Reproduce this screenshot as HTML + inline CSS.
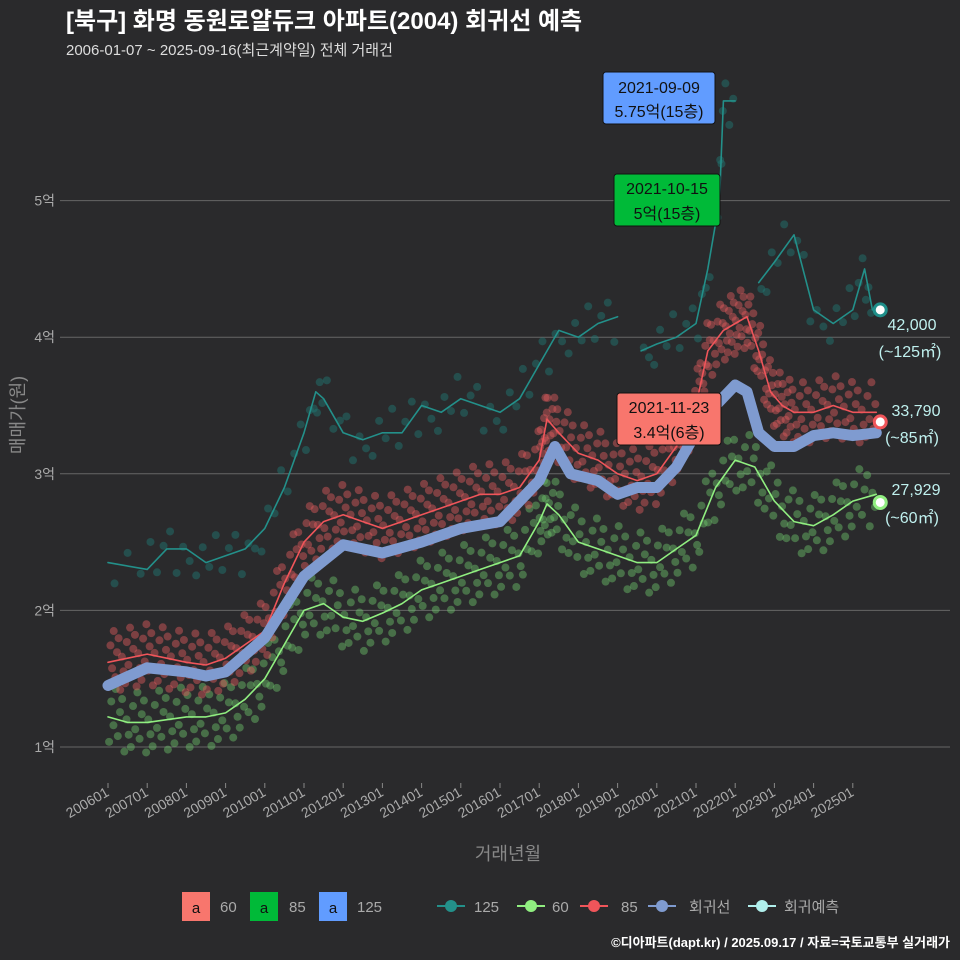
<!DOCTYPE html>
<html><head><meta charset="utf-8">
<style>
body{margin:0;background:#2a2a2c;}
svg{display:block;font-family:"Liberation Sans","Noto Sans CJK KR",sans-serif;}
</style></head>
<body>
<svg id="chart" width="960" height="960" viewBox="0 0 960 960">
<rect width="960" height="960" fill="#2a2a2c"/>
<text x="66" y="29" font-size="24" font-weight="bold" fill="#ffffff">[북구] 화명 동원로얄듀크 아파트(2004) 회귀선 예측</text>
<text x="66" y="55" font-size="15" fill="#dddddd">2006-01-07 ~ 2025-09-16(최근계약일) 전체 거래건</text>
<g id="grid"></g>
<g id="dots"></g>
<g id="lines"></g>
<g id="axes"></g>
<text transform="translate(24,415) rotate(-90)" text-anchor="middle" font-size="18" fill="#888">매매가(원)</text>
<text x="508" y="860" text-anchor="middle" font-size="18" fill="#888">거래년월</text>

<g>
<rect x="603" y="72" width="112" height="52" rx="3" fill="#619cff" stroke="#111"/>
<text x="659" y="93" text-anchor="middle" font-size="16" fill="#111">2021-09-09</text>
<text x="659" y="117" text-anchor="middle" font-size="16" fill="#111">5.75억(15층)</text>
</g>
<g>
<rect x="614" y="174" width="106" height="52" rx="3" fill="#00ba38" stroke="#111"/>
<text x="667" y="194" text-anchor="middle" font-size="16" fill="#111">2021-10-15</text>
<text x="667" y="219" text-anchor="middle" font-size="16" fill="#111">5억(15층)</text>
</g>
<g>
<rect x="617" y="393" width="104" height="52" rx="3" fill="#f8766d" stroke="#111"/>
<text x="669" y="413" text-anchor="middle" font-size="16" fill="#111">2021-11-23</text>
<text x="669" y="438" text-anchor="middle" font-size="16" fill="#111">3.4억(6층)</text>
</g>

<g fill="#bff0ee" font-size="16" text-anchor="middle">
<text x="912" y="330">42,000</text>
<text x="910" y="357">(~125㎡)</text>
<text x="916" y="416">33,790</text>
<text x="912" y="443">(~85㎡)</text>
<text x="916" y="495">27,929</text>
<text x="912" y="523">(~60㎡)</text>
</g>

<g font-size="15" fill="#aaa">
<rect x="182" y="892" width="28" height="29" fill="#f8766d"/><text x="196" y="913" text-anchor="middle" fill="#111">a</text><text x="220" y="912">60</text>
<rect x="250" y="892" width="28" height="29" fill="#00ba38"/><text x="264" y="913" text-anchor="middle" fill="#111">a</text><text x="289" y="912">85</text>
<rect x="319" y="892" width="28" height="29" fill="#619cff"/><text x="333" y="913" text-anchor="middle" fill="#111">a</text><text x="357" y="912">125</text>
<g><line x1="437" y1="906" x2="465" y2="906" stroke="#23908a" stroke-width="2"/><circle cx="451" cy="906" r="6" fill="#23908a"/><text x="474" y="912">125</text></g>
<g><line x1="517" y1="906" x2="545" y2="906" stroke="#90ee80" stroke-width="2"/><circle cx="531" cy="906" r="6" fill="#90ee80"/><text x="552" y="912">60</text></g>
<g><line x1="580" y1="906" x2="608" y2="906" stroke="#f0555a" stroke-width="2"/><circle cx="594" cy="906" r="6" fill="#f0555a"/><text x="621" y="912">85</text></g>
<g><line x1="648" y1="906" x2="676" y2="906" stroke="#7f9bd0" stroke-width="2"/><circle cx="662" cy="906" r="6" fill="#7f9bd0"/><text x="689" y="912">회귀선</text></g>
<g><line x1="748" y1="906" x2="776" y2="906" stroke="#b0efec" stroke-width="2"/><circle cx="762" cy="906" r="6" fill="#b0efec"/><text x="784" y="912">회귀예측</text></g>
</g>
<text x="950" y="947" text-anchor="end" font-size="13" font-weight="bold" fill="#fff">©디아파트(dapt.kr) / 2025.09.17 / 자료=국토교통부 실거래가</text>
</svg>
<script>
const yTicks=[1,2,3,4,5];
const yTickLabels=["1억","2억","3억","4억","5억"];
const xTickYears=[2006,2007,2008,2009,2010,2011,2012,2013,2014,2015,2016,2017,2018,2019,2020,2021,2022,2023,2024,2025];
const xTickLabels=["200601","200701","200801","200901","201001","201101","201201","201301","201401","201501","201601","201701","201801","201901","202001","202101","202201","202301","202401","202501"];
const t85=[2006,2006.5,2007,2007.5,2008,2008.5,2009,2009.5,2010,2010.5,2011,2011.5,2012,2012.5,2013,2013.5,2014,2014.5,2015,2015.5,2016,2016.5,2017,2017.2,2017.5,2018,2018.5,2019,2019.5,2020,2020.5,2021,2021.3,2021.7,2022,2022.3,2022.6,2022.9,2023.2,2023.5,2024,2024.5,2025,2025.6];
const v85=[1.62,1.65,1.68,1.65,1.62,1.6,1.65,1.75,1.85,2.2,2.5,2.65,2.7,2.65,2.6,2.65,2.7,2.75,2.8,2.85,2.85,2.9,3.1,3.4,3.3,3.15,3.1,3.0,2.95,3.0,3.2,3.5,3.9,4.05,4.1,4.15,3.9,3.6,3.5,3.45,3.45,3.5,3.45,3.45];
const t60=[2006,2006.5,2007,2007.5,2008,2008.5,2009,2009.5,2010,2010.5,2011,2011.5,2012,2012.5,2013,2013.5,2014,2014.5,2015,2015.5,2016,2016.5,2017,2017.2,2017.5,2018,2018.5,2019,2019.5,2020,2020.5,2021,2021.5,2022,2022.5,2023,2023.5,2024,2024.5,2025,2025.6];
const v60=[1.22,1.18,1.18,1.2,1.22,1.22,1.25,1.35,1.5,1.75,2.0,2.05,1.95,1.92,1.98,2.05,2.15,2.2,2.25,2.3,2.35,2.4,2.65,2.78,2.7,2.5,2.45,2.4,2.35,2.35,2.45,2.55,2.9,3.1,3.05,2.8,2.65,2.62,2.7,2.8,2.85];
const t125=[2006,2007,2007.5,2008,2008.5,2009,2009.5,2010,2010.5,2011,2011.3,2011.5,2012,2012.5,2013,2013.5,2014,2014.5,2015,2015.5,2016,2016.5,2017,2017.5,2018,2018.5,2019,2019.3,2019.6,2020,2020.5,2021,2021.3,2021.6,2021.7,2022,2022.3,2022.6,2023,2023.5,2024,2024.5,2025,2025.3,2025.5];
const v125=[2.35,2.3,2.45,2.45,2.35,2.4,2.45,2.6,2.9,3.3,3.6,3.55,3.3,3.25,3.3,3.3,3.5,3.45,3.55,3.5,3.45,3.55,3.8,4.05,4.0,4.1,4.15,null,3.9,3.95,4.0,4.1,4.5,5.0,5.73,5.73,null,4.4,4.55,4.75,4.2,4.1,4.2,4.5,4.2];
const tReg=[2006,2007,2008,2008.5,2009,2010,2011,2012,2013,2014,2015,2016,2017,2017.4,2017.8,2018.5,2019,2019.5,2020,2020.5,2021,2021.5,2022,2022.3,2022.6,2023,2023.5,2024,2024.5,2025,2025.6];
const vReg=[1.45,1.58,1.55,1.52,1.55,1.8,2.25,2.48,2.42,2.5,2.6,2.65,2.95,3.2,3.0,2.95,2.85,2.9,2.9,3.05,3.3,3.5,3.65,3.6,3.3,3.2,3.2,3.28,3.3,3.28,3.3];
const predT=[2025.7,2025.7,2025.7];
const predV=[4.2,3.38,2.79];
const jitter=[-0.18,0.12,-0.05,0.22,-0.12,0.06,0.16,-0.22,0.02,-0.09];

const X=t=>108+(t-2006)*39.2;
const Y=v=>747-(v-1)*136.6;
const NS="http://www.w3.org/2000/svg";
function mk(tag,attrs,parent){const e=document.createElementNS(NS,tag);for(const k in attrs)e.setAttribute(k,attrs[k]);parent.appendChild(e);return e;}
const grid=document.getElementById('grid'),axes=document.getElementById('axes'),dots=document.getElementById('dots'),lines=document.getElementById('lines');
yTicks.forEach((v,i)=>{
  const l=mk('line',{x1:60,x2:950,y1:Y(v),y2:Y(v),stroke:'#666','stroke-width':1},grid);
  
  
  const t=mk('text',{x:55,y:Y(v)+5,'text-anchor':'end','font-size':14,fill:'#aaa'},axes);
  t.textContent=yTickLabels[i];
  
  
});
xTickYears.forEach((yr,i)=>{
  const x=X(yr);
  mk('line',{x1:x,x2:x,y1:783,y2:788,stroke:'#888'},axes);
  const t=mk('text',{x:x+2,y:795,'text-anchor':'end','font-size':14,fill:'#aaa',transform:`rotate(-30 ${x+2} 795)`},axes);
  t.textContent=xTickLabels[i];
  
  
});
function scatter(ts,vs,color,per,spread){
  let k=0;
  for(let i=0;i<ts.length-1;i++){
    if(vs[i]==null||vs[i+1]==null)continue;
    for(let j=0;j<per;j++){
      const f=(j+0.5)/per;
      const t=ts[i]+(ts[i+1]-ts[i])*f;
      const v=vs[i]+(vs[i+1]-vs[i])*f+jitter[k%jitter.length]*spread;
      k++;
      const c=mk('circle',{cx:X(t),cy:Y(v),r:4,fill:color,'fill-opacity':0.45},dots);
      
      
    }
  }
}
scatter(t125,v125,'#1f7a76',3,0.8);
scatter(t60,v60,'#6cc46a',9,1.0);
scatter(t85,v85,'#e05a5e',12,1.0);
function path(ts,vs,color,w,name){
  let d='',pen=false;
  ts.forEach((t,i)=>{if(vs[i]==null){pen=false;return;}d+=(pen?'L':'M')+X(t).toFixed(1)+' '+Y(vs[i]).toFixed(1)+' ';pen=true;});
  const p=mk('path',{d:d,fill:'none',stroke:color,'stroke-width':w,'stroke-linejoin':'round','stroke-linecap':'round'},lines);
  
  
}
path(t125,v125,'#23908a',1.6,'line-125');
path(t60,v60,'#90ee80',1.6,'line-60');
path(t85,v85,'#f0555a',1.6,'line-85');
path(tReg,vReg,'#7f9bd0',11,'regression-line');
const predColors=['#1f8f8a','#f0555a','#90ee80'];
predV.forEach((v,i)=>{
  const c=mk('circle',{cx:X(predT[i]),cy:Y(v),r:6,fill:'#fff',stroke:predColors[i],'stroke-width':3},lines);
  
  
});
</script>
</body></html>
